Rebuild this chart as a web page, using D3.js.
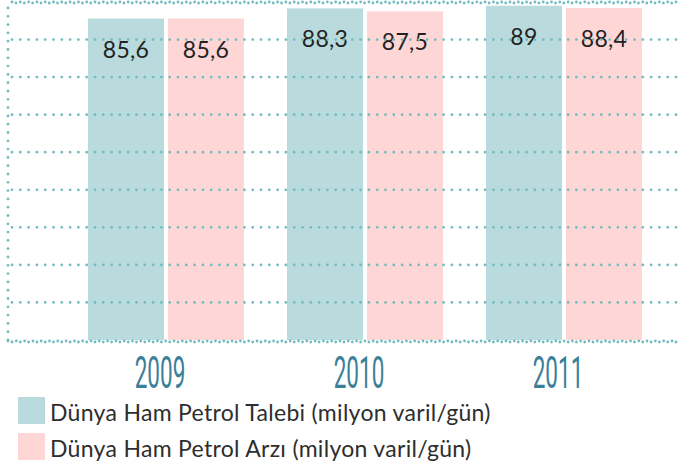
<!DOCTYPE html>
<html>
<head>
<meta charset="utf-8">
<script src="https://cdn.jsdelivr.net/npm/d3@7.9.0/dist/d3.min.js"></script>
<style>
  body { margin: 0; background: #fff; }
  svg { display: block; }
</style>
</head>
<body>
<svg id="chart" width="680" height="466"></svg>
<script>
// data
const years = ['2009', '2010', '2011'];
const seriesNames = [
  'Dünya Ham Petrol Talebi (milyon varil/gün)',
  'Dünya Ham Petrol Arzı (milyon varil/gün)'
];
const demand = [85.6, 88.3, 89];
const supply = [85.6, 87.5, 88.4];
const gridTicks = [0, 10, 20, 30, 40, 50, 60, 70, 80, 90];

const colors = ['#b9dbdd', '#ffd6d6'];
const dotColor = '#72bcbf';

const svg = d3.select('#chart');
const W = 680;
const plotLeft = 8, plotBottom = 340, plotTop = 2;

const x0 = d3.scalePoint().domain(years).range([166, 564]);
const x1 = d3.scaleBand().domain([0, 1]).range([-78, 78]).paddingInner(0.05);
const y = d3.scaleLinear().domain([0, 90]).range([plotBottom, plotTop]);

const rows = years.map((yr, i) => ({ year: yr, values: [demand[i], supply[i]] }));

// bars
const groups = svg.append('g').selectAll('g')
  .data(rows)
  .join('g')
  .attr('transform', d => `translate(${x0(d.year)},0)`);

groups.selectAll('rect')
  .data(d => d.values.map((v, k) => ({ v, k })))
  .join('rect')
  .attr('x', d => x1(d.k))
  .attr('width', x1.bandwidth())
  .attr('y', d => y(d.v))
  .attr('height', d => plotBottom - y(d.v))
  .attr('fill', d => colors[d.k]);

// dotted grid on top of the bars
const grid = svg.append('g')
  .attr('stroke', dotColor)
  .attr('stroke-width', 2.8)
  .attr('stroke-linecap', 'round')
  .attr('stroke-dasharray', '0 8.3');

grid.selectAll('line.h')
  .data(gridTicks.slice(1))
  .join('line')
  .attr('class', 'h')
  .attr('x1', plotLeft + 4)
  .attr('x2', W)
  .attr('y1', d => y(d))
  .attr('y2', d => y(d));

// top line looks doubled
grid.append('line')
  .attr('x1', plotLeft + 8).attr('x2', W)
  .attr('y1', y(90) + 1).attr('y2', y(90) + 1);

// baseline, slightly wavy (two offset dotted rows)
grid.append('line')
  .attr('x1', plotLeft).attr('x2', W)
  .attr('y1', plotBottom + 1).attr('y2', plotBottom + 1);
grid.append('line')
  .attr('x1', plotLeft + 4).attr('x2', W)
  .attr('y1', plotBottom + 2).attr('y2', plotBottom + 2);

// left vertical dotted axis
grid.append('line')
  .attr('x1', plotLeft).attr('x2', plotLeft)
  .attr('y1', plotBottom).attr('y2', y(90));

// value labels
groups.selectAll('text')
  .data(d => d.values.map((v, k) => ({ v, k })))
  .join('text')
  .attr('x', d => x1(d.k) + x1.bandwidth() / 2)
  .attr('y', d => y(d.v) + 39)
  .attr('text-anchor', 'middle')
  .attr('font-family', 'Lato, "Liberation Sans", sans-serif')
  .attr('font-size', 23)
  .attr('letter-spacing', 0.3)
  .attr('fill', '#222')
  .text(d => String(d.v).replace('.', ','));

// year labels (narrow)
svg.append('g').selectAll('text')
  .data(years)
  .join('text')
  .attr('transform', d => `translate(${x0(d) - 6},388) scale(0.5,1)`)
  .attr('text-anchor', 'middle')
  .attr('font-family', 'Roboto, sans-serif')
  .attr('font-weight', 400)
  .attr('font-size', 45)
  .attr('fill', '#3b7f98')
  .text(d => d);

// legend
const legend = svg.append('g').selectAll('g')
  .data(seriesNames)
  .join('g')
  .attr('transform', (d, i) => `translate(18,${397 + i * 36})`);

legend.append('rect')
  .attr('width', 27)
  .attr('height', 27)
  .attr('fill', (d, i) => colors[i]);

legend.append('text')
  .attr('x', 32)
  .attr('y', 24)
  .attr('font-family', 'Lato, sans-serif')
  .attr('font-size', 23)
  .attr('letter-spacing', 0.3)
  .attr('fill', '#2e2e2e')
  .text(d => d);
</script>
</body>
</html>
